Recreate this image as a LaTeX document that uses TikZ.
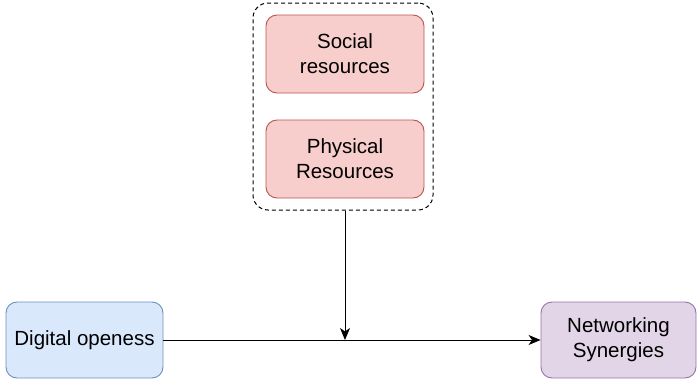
\documentclass[tikz,border=0pt]{standalone}
\usepackage{fontspec}
\setmainfont{Liberation Sans}
\usetikzlibrary{arrows.meta}
\definecolor{resred}{HTML}{B85450}
\definecolor{resfill}{HTML}{F8CECC}
\definecolor{bluedraw}{HTML}{6C8EBF}
\definecolor{bluefill}{HTML}{DAE8FC}
\definecolor{purpdraw}{HTML}{9673A6}
\definecolor{purpfill}{HTML}{E1D5E7}
\begin{document}
\begin{tikzpicture}[x=1pt,y=-1pt,
  box/.style={draw, line width=0.9pt, rounded corners=11pt, align=center,
    inner sep=0pt, font=\fontsize{20.5}{25}\selectfont},
  resbox/.style={box, draw=resred, fill=resfill, minimum width=158pt, minimum height=78pt},
  link/.style={line width=0.9pt, -{Stealth[length=12pt,width=10pt,inset=3.5pt]}}
]
\useasboundingbox (0,0) rectangle (697,378);

% resource group
\node[draw, dash pattern=on 4pt off 3pt, line width=1pt, rounded corners=15pt,
  minimum width=180pt, minimum height=207pt, inner sep=0pt] (group) at (343,106.5) {};
\node[resbox] (social) at (345,54) {Social\\resources};
\node[resbox] (physical) at (345,159) {Physical\\Resources};

% main path
\node[box, draw=bluedraw, fill=bluefill, minimum width=157pt, minimum height=76pt]
  (digital) at (84.5,340) {Digital openess};
\node[box, draw=purpdraw, fill=purpfill, minimum width=155pt, minimum height=76pt]
  (network) at (618.5,340) {Networking\\Synergies};

\coordinate (join) at (345,340);
\draw[link] (digital) -- (network);
\draw[link] (group.south -| join) -- (join);
\end{tikzpicture}
\end{document}
